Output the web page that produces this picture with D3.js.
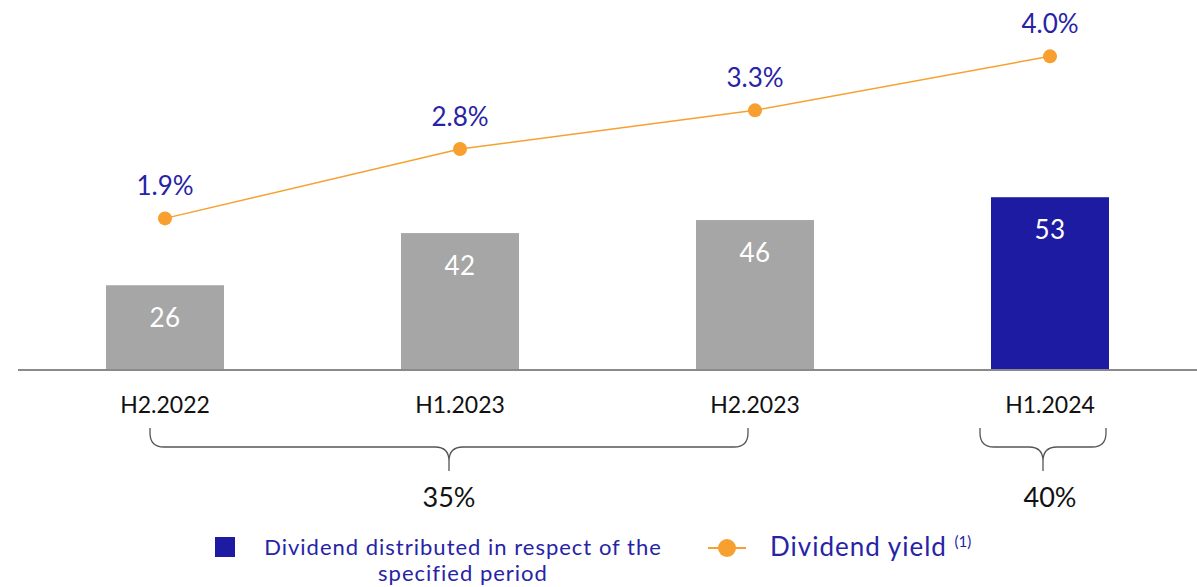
<!DOCTYPE html>
<html>
<head>
<meta charset="utf-8">
<script src="https://cdn.jsdelivr.net/npm/d3@7"></script>
<style>
  body { margin: 0; background: #fff; }
  svg { display: block; font-family: "Lato", "Noto Sans", sans-serif; }
</style>
</head>
<body>
<svg id="chart" width="1197" height="587"></svg>
<script>
// data
const periods = ["H2.2022", "H1.2023", "H2.2023", "H1.2024"];
const dividends = [26, 42, 46, 53];
const yields = [1.9, 2.8, 3.3, 4.0];
const highlight = ["H1.2024"];
const payoutGroups = ["H2.2022|H2.2023", "H1.2024|H1.2024"];
const payoutLabels = ["35%", "40%"];

const GREY = "#a6a6a6", BLUE = "#1e1ba3", ORANGE = "#f7a030", TEXTBLUE = "#2723a6";

let svg = d3.select("#chart");
let baseY = 370;

// X axis
let x = d3.scaleBand()
    .domain(periods)
    .range([17.5, 1197.5])
    .paddingInner(0.6)
    .paddingOuter(0.3);
let cx = d => x(d) + x.bandwidth() / 2;

// bars scale & yield scale
let yBar = d3.scaleLinear().domain([0, 113.5]).range([baseY, 0]);
let yYield = d3.scaleLinear().domain([0, 4.73]).range([365, 0]);

let rows = periods.map((p, i) => ({ p: p, v: dividends[i], y: yields[i] }));

// bars
svg.selectAll("rect.bar")
    .data(rows)
    .enter()
    .append("rect")
    .attr("class", "bar")
    .attr("x", d => x(d.p))
    .attr("y", d => yBar(d.v))
    .attr("width", x.bandwidth())
    .attr("height", d => baseY - yBar(d.v))
    .attr("fill", d => highlight.includes(d.p) ? BLUE : GREY);

svg.selectAll("text.val")
    .data(rows)
    .enter()
    .append("text")
    .text(d => d.v)
    .attr("x", d => cx(d.p))
    .attr("y", d => yBar(d.v) + 42)
    .attr("text-anchor", "middle")
    .attr("font-size", "26px")
    .attr("letter-spacing", "0.5px")
    .attr("fill", "#fff");

// baseline
let axis = svg.append("g")
    .attr("transform", "translate(0," + baseY + ")")
    .call(d3.axisBottom(x).tickSize(0).tickPadding(27));
axis.select(".domain").attr("d", "M18,0H1197").attr("stroke", "#8a8a8a").attr("stroke-width", 2);
axis.selectAll("text")
    .attr("font-size", "23px")
    .attr("font-family", "Lato, 'Noto Sans', sans-serif")
    .attr("fill", "#111");

// yield line
svg.append("path")
    .datum(rows)
    .attr("fill", "none")
    .attr("stroke", ORANGE)
    .attr("stroke-width", 1.5)
    .attr("d", d3.line().x(d => cx(d.p)).y(d => yYield(d.y)));

svg.selectAll("circle.dot")
    .data(rows)
    .enter()
    .append("circle")
    .attr("cx", d => cx(d.p))
    .attr("cy", d => yYield(d.y))
    .attr("r", 7)
    .attr("fill", ORANGE);

svg.selectAll("text.yl")
    .data(rows)
    .enter()
    .append("text")
    .text(d => d.y.toFixed(1) + "%")
    .attr("x", d => cx(d.p))
    .attr("y", d => yYield(d.y) - 23)
    .attr("text-anchor", "middle")
    .attr("font-size", "26px")
    .attr("fill", TEXTBLUE);

// payout braces
let braceInset = [[-15, -7, -11], [-70, 56, -7]];
let y0 = 428, y1 = 447, y2 = 471;
payoutGroups.forEach(function(g, i) {
    let ends = g.split("|");
    let xa = cx(ends[0]) + braceInset[i][0];
    let xb = cx(ends[1]) + braceInset[i][1];
    let xm = (cx(ends[0]) + cx(ends[1])) / 2 + braceInset[i][2];
    let r = 14;
    let d = "M" + xa + "," + y0 +
        "L" + xa + "," + (y1 - r) +
        "Q" + xa + "," + y1 + " " + (xa + r) + "," + y1 +
        "L" + (xm - r) + "," + y1 +
        "Q" + xm + "," + y1 + " " + xm + "," + (y1 + r) +
        "L" + xm + "," + y2 +
        "M" + xm + "," + (y1 + r) +
        "Q" + xm + "," + y1 + " " + (xm + r) + "," + y1 +
        "L" + (xb - r) + "," + y1 +
        "Q" + xb + "," + y1 + " " + xb + "," + (y1 - r) +
        "L" + xb + "," + y0;
    svg.append("path")
        .attr("d", d)
        .attr("fill", "none")
        .attr("stroke", "#555")
        .attr("stroke-width", 1.3);
    svg.append("text")
        .text(payoutLabels[i])
        .attr("x", (cx(ends[0]) + cx(ends[1])) / 2 + (i === 0 ? -11 : 0))
        .attr("y", 507)
        .attr("text-anchor", "middle")
        .attr("font-size", "27px")
        .attr("fill", "#111");
});

// legend
let lg = svg.append("g");
lg.append("rect").attr("x", 215).attr("y", 537).attr("width", 20).attr("height", 20).attr("fill", BLUE);
lg.append("text").attr("x", 463).attr("y", 555).attr("text-anchor", "middle")
    .attr("font-size", "22px").attr("letter-spacing", "1px").attr("fill", TEXTBLUE)
    .text("Dividend distributed in respect of the");
lg.append("text").attr("x", 463).attr("y", 581).attr("text-anchor", "middle")
    .attr("font-size", "22px").attr("letter-spacing", "1px").attr("fill", TEXTBLUE)
    .text("specified period");
lg.append("line").attr("x1", 708).attr("x2", 746).attr("y1", 548).attr("y2", 548)
    .attr("stroke", ORANGE).attr("stroke-width", 2);
lg.append("circle").attr("cx", 727).attr("cy", 548).attr("r", 9).attr("fill", ORANGE);
let yt = lg.append("text").attr("x", 770).attr("y", 556)
    .attr("font-size", "26px").attr("letter-spacing", "1px").attr("fill", TEXTBLUE);
yt.append("tspan").text("Dividend yield ");
yt.append("tspan").attr("dy", -9).attr("font-size", "15px").attr("letter-spacing", "0px").text("(1)");
</script>
</body>
</html>
